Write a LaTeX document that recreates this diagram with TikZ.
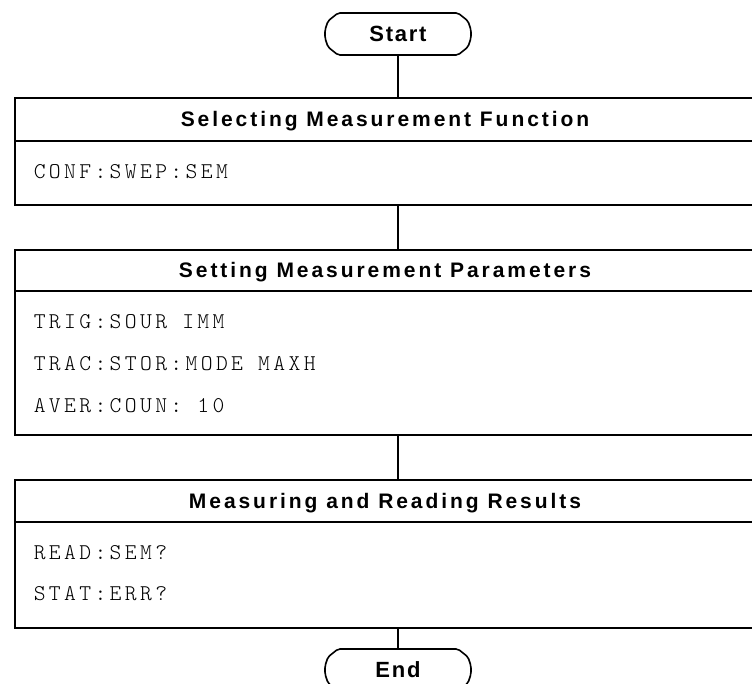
\documentclass[tikz,border=0pt]{standalone}
\usepackage{fontspec}
\newfontfamily\hdfont[LetterSpace=14]{Liberation Sans}
\newfontfamily\termfont[LetterSpace=8]{Liberation Sans}
\newfontfamily\cmdfont[LetterSpace=15]{lmmonolt10-regular.otf}

% terminal (Start/End) outline drawn round a named node
\newcommand\drawterm[1]{%
  \draw[rounded corners=2pt]
    ([shift={(-60,-21)}]#1.center) -- ([shift={(60,-21)}]#1.center)
    -- ([shift={(70,-13)}]#1.center) -- ([shift={(73,-4)}]#1.center)
    -- ([shift={(73,4)}]#1.center) -- ([shift={(70,13)}]#1.center)
    -- ([shift={(60,21)}]#1.center) -- ([shift={(-60,21)}]#1.center)
    -- ([shift={(-70,13)}]#1.center) -- ([shift={(-73,4)}]#1.center)
    -- ([shift={(-73,-4)}]#1.center) -- ([shift={(-70,-13)}]#1.center)
    -- cycle;}

\begin{document}
\begin{tikzpicture}[x=1pt,y=-1pt,line width=1.6pt,
  hdr/.style={font=\hdfont\bfseries\fontsize{21}{25}\selectfont,anchor=base,inner sep=0pt},
  cmd/.style={font=\cmdfont\fontsize{22.5}{26}\selectfont,anchor=base west,inner sep=0pt},
  term/.style={font=\termfont\bfseries\fontsize{22}{26}\selectfont,
    minimum width=146pt,minimum height=42pt,inner sep=0pt},
  panel/.style={draw,minimum width=742pt,anchor=north west,inner sep=0pt}]
\useasboundingbox (0,0) rectangle (752,684);
\clip (0,0) rectangle (752,684);

% terminals
\node[term] (start) at (398,34) {Start};
\drawterm{start}
\node[term] (end) at (398,670) {End};
\drawterm{end}

% step 1
\node[panel,minimum height=107pt] (p1) at (14,97) {};
\draw (14,141) -- (756,141);
\node[hdr] (h1) at (385,126.5) {Selecting Measurement Function};
\node[cmd] (c11) at (33,178.5) {CONF:SWEP:SEM};

% step 2
\node[panel,minimum height=185pt] (p2) at (14,249) {};
\draw (14,291) -- (756,291);
\node[hdr] (h2) at (385,277.5) {Setting Measurement Parameters};
\node[cmd] (c21) at (33,328.5) {TRIG:SOUR IMM};
\node[cmd] (c22) at (33,370.5) {TRAC:STOR:MODE MAXH};
\node[cmd] (c23) at (33,412.5) {AVER:COUN: 10};

% step 3
\node[panel,minimum height=148pt] (p3) at (14,479) {};
\draw (14,522) -- (756,522);
\node[hdr] (h3) at (385,508) {Measuring and Reading Results};
\node[cmd] (c31) at (33,559.5) {READ:SEM?};
\node[cmd] (c32) at (33,600.5) {STAT:ERR?};

% connectors
\draw (start.south) -- (start.south |- p1.north);
\draw (start.south |- p1.south) -- (start.south |- p2.north);
\draw (start.south |- p2.south) -- (start.south |- p3.north);
\draw (start.south |- p3.south) -- (end.north);
\end{tikzpicture}
\end{document}
